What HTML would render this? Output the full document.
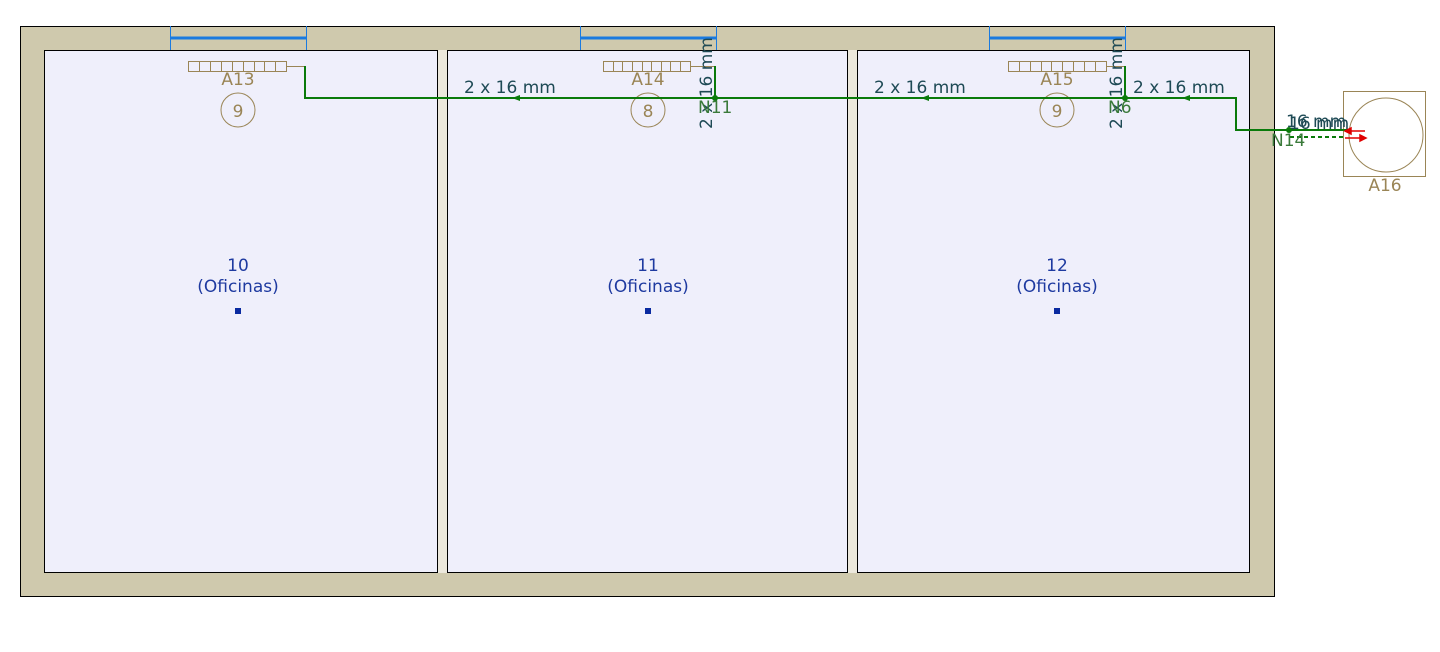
<!DOCTYPE html>
<html><head><meta charset="utf-8"><style>
html,body{margin:0;padding:0;background:#fff;width:1440px;height:652px;overflow:hidden}
svg{display:block}
text{font-family:"DejaVu Sans","Liberation Sans",sans-serif}
</style></head><body>
<svg width="1440" height="652" viewBox="0 0 1440 652" xmlns="http://www.w3.org/2000/svg">
<rect x="20.5" y="26.5" width="1254" height="570" fill="#cfc9ad" stroke="#000" stroke-width="1"/>
<rect x="437" y="50" width="10" height="523" fill="#ece8dc"/>
<rect x="847" y="50" width="10" height="523" fill="#ece8dc"/>
<rect x="44.5" y="50.5" width="393" height="522" fill="#efeffb" stroke="#000"/>
<rect x="447.5" y="50.5" width="400" height="522" fill="#efeffb" stroke="#000"/>
<rect x="857.5" y="50.5" width="392" height="522" fill="#efeffb" stroke="#000"/>
<g stroke="#1a7ae0">
<line x1="170" y1="38" x2="306" y2="38" stroke-width="3"/>
<line x1="170.5" y1="26" x2="170.5" y2="50"/><line x1="306.5" y1="26" x2="306.5" y2="50"/>
<line x1="580" y1="38" x2="716" y2="38" stroke-width="3"/>
<line x1="580.5" y1="26" x2="580.5" y2="50"/><line x1="716.5" y1="26" x2="716.5" y2="50"/>
<line x1="989" y1="38" x2="1125" y2="38" stroke-width="3"/>
<line x1="989.5" y1="26" x2="989.5" y2="50"/><line x1="1125.5" y1="26" x2="1125.5" y2="50"/>
</g>
<g fill="none" stroke="#9a8556" stroke-width="1">
<rect x="188.5" y="61.5" width="98" height="10"/>
<path d="M199.5 61v11M210.5 61v11M221.5 61v11M232.5 61v11M243.5 61v11M254.5 61v11M264.5 61v11M275.5 61v11"/>
<line x1="287" y1="66.5" x2="305" y2="66.5"/>
<rect x="603.5" y="61.5" width="87" height="10"/>
<path d="M613.5 61v11M622.5 61v11M632.5 61v11M642.5 61v11M651.5 61v11M661.5 61v11M670.5 61v11M680.5 61v11"/>
<line x1="691" y1="66.5" x2="715" y2="66.5"/>
<rect x="1008.5" y="61.5" width="98" height="10"/>
<path d="M1019.5 61v11M1030.5 61v11M1041.5 61v11M1051.5 61v11M1062.5 61v11M1073.5 61v11M1084.5 61v11M1095.5 61v11"/>
<line x1="1107" y1="66.5" x2="1125" y2="66.5"/>
<circle cx="238" cy="110" r="17"/><circle cx="648" cy="110" r="17"/><circle cx="1057" cy="110" r="17"/>
<rect x="1343.5" y="91.5" width="82" height="85"/>
<circle cx="1386" cy="135" r="37"/>
</g>
<g fill="#9a8556" font-size="17" text-anchor="middle">
<text x="238" y="85">A13</text><text x="648" y="85">A14</text><text x="1057" y="85">A15</text>
<text x="238" y="117">9</text><text x="648" y="117">8</text><text x="1057" y="117">9</text>
<text x="1385" y="191">A16</text>
</g>
<g fill="none" stroke="#0a7a0a" stroke-width="2">
<path d="M305 66V98H1236V130H1348"/>
<line x1="715" y1="66" x2="715" y2="98"/>
<line x1="1125" y1="66" x2="1125" y2="98"/>
<line x1="1290" y1="137" x2="1345" y2="137" stroke-dasharray="4,3"/>
</g>
<g fill="#0a7a0a">
<circle cx="715" cy="98" r="3"/><circle cx="1125" cy="98" r="3"/><circle cx="1289" cy="130" r="3"/>
<path d="M512 98l8-3v6z"/><path d="M921 98l8-3v6z"/><path d="M1182 98l8-3v6z"/>
</g>
<g stroke="#e00000" stroke-width="1.5" fill="#e00000">
<line x1="1345" y1="131" x2="1365" y2="131"/><path d="M1345 131l6-3v6z"/>
<line x1="1345" y1="138" x2="1363" y2="138"/><path d="M1366 138l-6-3v6z"/>
</g>
<g fill="#1e4a55" font-size="17">
<text x="464" y="93">2 x 16 mm</text>
<text x="874" y="93">2 x 16 mm</text>
<text x="1133" y="93">2 x 16 mm</text>
<text transform="translate(712,129) rotate(-90)">2 x 16 mm</text>
<text transform="translate(1122,129) rotate(-90)">2 x 16 mm</text>
<text x="1286" y="127">16 mm</text>
<text x="1289" y="129">16 mm</text>
</g>
<g fill="#3a7a3a" font-size="17">
<text x="698" y="113">N11</text>
<text x="1108" y="113">N6</text>
<text x="1271" y="146">N14</text>
</g>
<g fill="#1e3aa0" font-size="17" text-anchor="middle">
<text x="238" y="271">10</text><text x="238" y="292">(Oficinas)</text>
<text x="648" y="271">11</text><text x="648" y="292">(Oficinas)</text>
<text x="1057" y="271">12</text><text x="1057" y="292">(Oficinas)</text>
</g>
<g fill="#0a2aa0">
<rect x="235" y="308" width="6" height="6"/><rect x="645" y="308" width="6" height="6"/><rect x="1054" y="308" width="6" height="6"/>
</g>
</svg>
</body></html>
